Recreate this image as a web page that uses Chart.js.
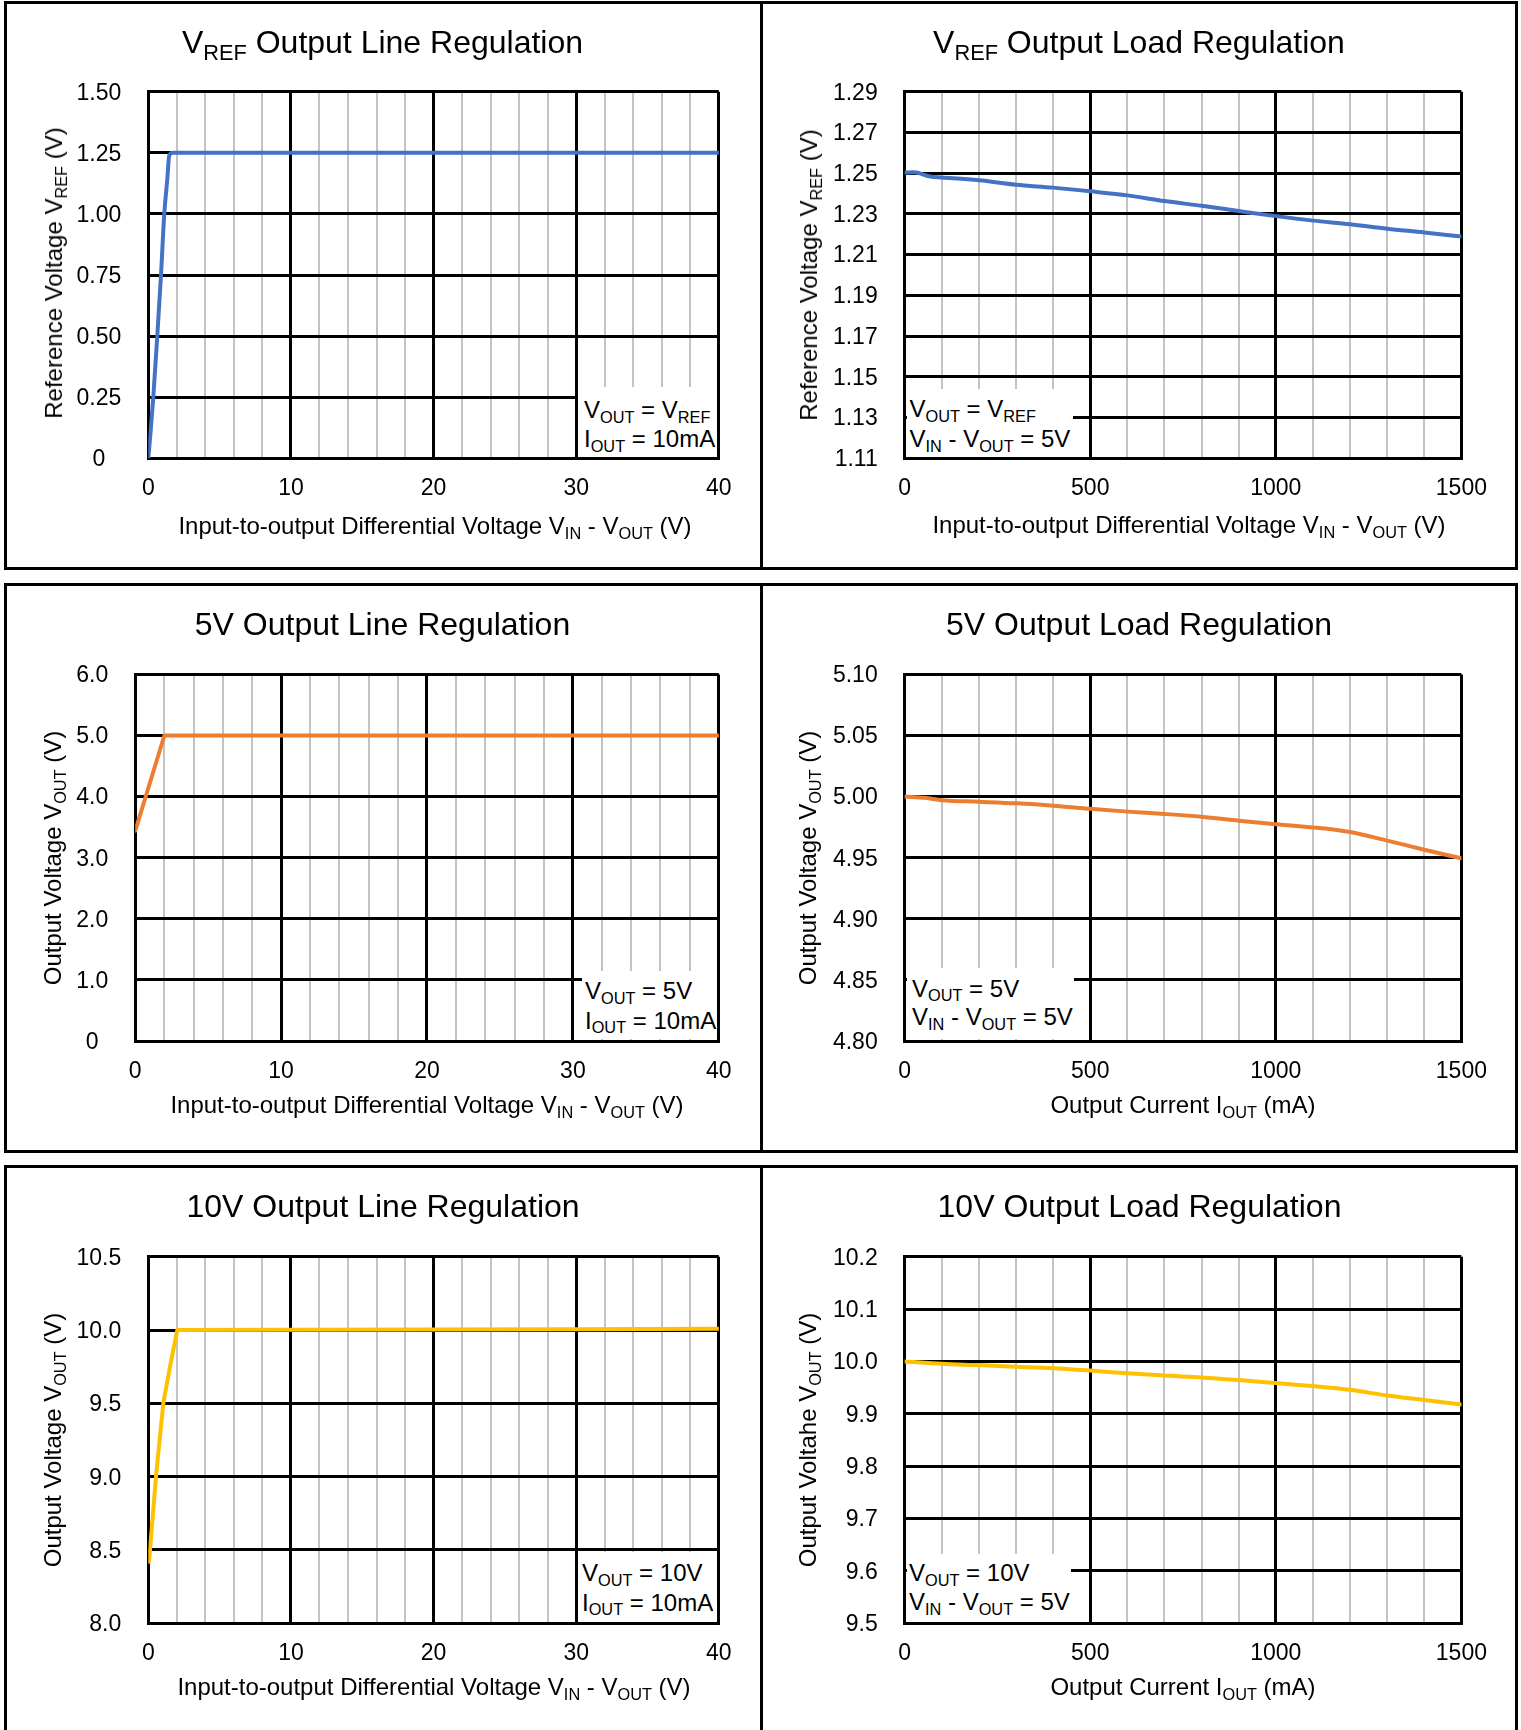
<!DOCTYPE html>
<html>
<head>
<meta charset="utf-8">
<script src="https://cdn.jsdelivr.net/npm/chart.js@4.4.1/dist/chart.umd.min.js"></script>
<style>
  html,body{margin:0;padding:0;background:#fff;}
  body{width:1521px;height:1730px;position:relative;overflow:hidden;font-family:"Liberation Sans",Arial,sans-serif;color:#000;}
  .row{position:absolute;left:3.5px;width:1514.5px;border:3px solid #000;box-sizing:border-box;}
  .vdiv{position:absolute;left:760.2px;width:3px;background:#000;}
  canvas{position:absolute;}
  .t{position:absolute;white-space:nowrap;line-height:1;transform:translate(-50%,-50%);}
  .title{font-size:32px;}
  .axt{font-size:24px;}
  .yt{transform:translate(-50%,-50%) rotate(-90deg);}
  .box{position:absolute;background:#fff;}
  .note{position:absolute;white-space:nowrap;line-height:1;font-size:24px;transform:translateY(-50%);}
  sub{font-size:0.68em;vertical-align:baseline;position:relative;top:0.3em;line-height:0;}
</style>
</head>
<body>
<div class="row" style="top:0.5px;height:569.5px;"></div>
<div class="vdiv" style="top:0.5px;height:569.5px;"></div>
<div class="row" style="top:582.5px;height:570.3px;"></div>
<div class="vdiv" style="top:582.5px;height:570.3px;"></div>
<div class="row" style="top:1164.5px;height:600px;"></div>
<div class="vdiv" style="top:1164.5px;height:600px;"></div>

<canvas id="c1"></canvas>
<canvas id="c2"></canvas>
<canvas id="c3"></canvas>
<canvas id="c4"></canvas>
<canvas id="c5"></canvas>
<canvas id="c6"></canvas>

<!-- annotation backgrounds -->
<div class="box" style="left:577.5px;top:387px;width:139px;height:69.5px;"></div>
<div class="box" style="left:906.5px;top:388.5px;width:166.5px;height:68px;"></div>
<div class="box" style="left:581.5px;top:971px;width:135px;height:68.3px;"></div>
<div class="box" style="left:906.5px;top:968px;width:167.5px;height:71.3px;"></div>
<div class="box" style="left:578px;top:1552px;width:138.5px;height:69.6px;"></div>
<div class="box" style="left:906.5px;top:1554px;width:164.5px;height:67.6px;"></div>

<!-- titles -->
<div class="t title" style="left:382.5px;top:42px;">V<sub>REF</sub> Output Line Regulation</div>
<div class="t title" style="left:1139px;top:42px;">V<sub>REF</sub> Output Load Regulation</div>
<div class="t title" style="left:382.5px;top:624px;">5V Output Line Regulation</div>
<div class="t title" style="left:1139px;top:624px;">5V Output Load Regulation</div>
<div class="t title" style="left:383px;top:1206px;">10V Output Line Regulation</div>
<div class="t title" style="left:1139.5px;top:1206px;">10V Output Load Regulation</div>

<!-- x axis titles -->
<div class="t axt" style="left:435px;top:526px;">Input-to-output Differential Voltage V<sub>IN</sub> - V<sub>OUT</sub> (V)</div>
<div class="t axt" style="left:1189px;top:525px;">Input-to-output Differential Voltage V<sub>IN</sub> - V<sub>OUT</sub> (V)</div>
<div class="t axt" style="left:427px;top:1105px;">Input-to-output Differential Voltage V<sub>IN</sub> - V<sub>OUT</sub> (V)</div>
<div class="t axt" style="left:1183px;top:1105px;">Output Current I<sub>OUT</sub> (mA)</div>
<div class="t axt" style="left:434px;top:1687px;">Input-to-output Differential Voltage V<sub>IN</sub> - V<sub>OUT</sub> (V)</div>
<div class="t axt" style="left:1183px;top:1687px;">Output Current I<sub>OUT</sub> (mA)</div>

<!-- y axis titles -->
<div class="t axt yt" style="left:53.5px;top:273px;">Reference Voltage V<sub>REF</sub> (V)</div>
<div class="t axt yt" style="left:808.5px;top:275px;">Reference Voltage V<sub>REF</sub> (V)</div>
<div class="t axt yt" style="left:53px;top:858px;">Output Voltage V<sub>OUT</sub> (V)</div>
<div class="t axt yt" style="left:808px;top:858px;">Output Voltage V<sub>OUT</sub> (V)</div>
<div class="t axt yt" style="left:53px;top:1440px;">Output Voltage V<sub>OUT</sub> (V)</div>
<div class="t axt yt" style="left:808px;top:1440px;">Output Voltahe V<sub>OUT</sub> (V)</div>

<!-- condition notes -->
<div class="note" style="left:584px;top:410px;">V<sub>OUT</sub> = V<sub>REF</sub></div>
<div class="note" style="left:584px;top:439px;">I<sub>OUT</sub> = 10mA</div>
<div class="note" style="left:909.5px;top:409px;">V<sub>OUT</sub> = V<sub>REF</sub></div>
<div class="note" style="left:909.5px;top:439px;">V<sub>IN</sub> - V<sub>OUT</sub> = 5V</div>
<div class="note" style="left:585px;top:991px;">V<sub>OUT</sub> = 5V</div>
<div class="note" style="left:585px;top:1020.5px;">I<sub>OUT</sub> = 10mA</div>
<div class="note" style="left:912px;top:988.5px;">V<sub>OUT</sub> = 5V</div>
<div class="note" style="left:912px;top:1017px;">V<sub>IN</sub> - V<sub>OUT</sub> = 5V</div>
<div class="note" style="left:582px;top:1573px;">V<sub>OUT</sub> = 10V</div>
<div class="note" style="left:582px;top:1602.5px;">I<sub>OUT</sub> = 10mA</div>
<div class="note" style="left:909px;top:1573px;">V<sub>OUT</sub> = 10V</div>
<div class="note" style="left:909px;top:1602px;">V<sub>IN</sub> - V<sub>OUT</sub> = 5V</div>

<script>
// ---------------- DATA ----------------
// VREF output line regulation (x: VIN-VOUT in V, y: VREF in V)
const vrefLineX = [0, 0.17, 0.35, 0.63, 0.89, 1.12, 1.33, 1.47, 1.75, 10, 20, 30, 40];
const vrefLineY = [0, 0.115, 0.25, 0.50, 0.75, 1.00, 1.14, 1.24, 1.25, 1.25, 1.25, 1.25, 1.25];

// VREF output load regulation (x: mA, y: V)
const vrefLoadX = [0, 25, 70, 100, 200, 300, 400, 500, 600, 700, 800, 900, 1000, 1100, 1200, 1300, 1400, 1500];
const vrefLoadY = [1.2503, 1.2505, 1.2483, 1.2479, 1.2465, 1.2443, 1.2429, 1.2411, 1.2391, 1.2363, 1.2340, 1.2314, 1.2289, 1.2267, 1.2249, 1.2227, 1.2209, 1.2189];

// 5V output line regulation
const out5LineX = [0, 2, 10, 20, 30, 40];
const out5LineY = [3.44, 5.0, 5.0, 5.0, 5.0, 5.0];

// 5V output load regulation
const out5LoadX = [0, 55, 100, 200, 300, 400, 500, 600, 700, 800, 900, 1000, 1100, 1150, 1200, 1300, 1400, 1500];
const out5LoadY = [5.000, 4.999, 4.997, 4.9958, 4.9945, 4.9926, 4.9900, 4.9877, 4.9858, 4.9835, 4.9803, 4.9774, 4.9748, 4.9733, 4.9710, 4.9640, 4.9565, 4.9495];

// 10V output line regulation
const out10LineX = [0.05, 0.12, 0.54, 1.05, 1.52, 2.03, 10, 20, 30, 40];
const out10LineY = [8.42, 8.50, 9.00, 9.50, 9.75, 10.0, 10.002, 10.004, 10.006, 10.008];

// 10V output load regulation
const out10LoadX = [0, 100, 200, 300, 400, 500, 600, 700, 800, 900, 1000, 1100, 1200, 1300, 1400, 1500];
const out10LoadY = [10.0, 9.9954, 9.993, 9.990, 9.987, 9.9825, 9.9774, 9.973, 9.9695, 9.9645, 9.9588, 9.953, 9.9458, 9.935, 9.9264, 9.9178];

// ---------------- TICKS ----------------
const lineGridX = [0, 2, 4, 6, 8, 10, 12, 14, 16, 18, 20, 22, 24, 26, 28, 30, 32, 34, 36, 38, 40];
const lineMajorX = [0, 10, 20, 30, 40];
const loadGridX = [0, 100, 200, 300, 400, 500, 600, 700, 800, 900, 1000, 1100, 1200, 1300, 1400, 1500];
const loadMajorX = [0, 500, 1000, 1500];

const vrefLineYTicks = [0, 0.25, 0.5, 0.75, 1.0, 1.25, 1.5];
const vrefLineYLabels = ['0', '0.25', '0.50', '0.75', '1.00', '1.25', '1.50'];
const vrefLoadYTicks = [1.11, 1.13, 1.15, 1.17, 1.19, 1.21, 1.23, 1.25, 1.27, 1.29];
const vrefLoadYLabels = ['1.11', '1.13', '1.15', '1.17', '1.19', '1.21', '1.23', '1.25', '1.27', '1.29'];
const out5LineYTicks = [0, 1, 2, 3, 4, 5, 6];
const out5LineYLabels = ['0', '1.0', '2.0', '3.0', '4.0', '5.0', '6.0'];
const out5LoadYTicks = [4.80, 4.85, 4.90, 4.95, 5.00, 5.05, 5.10];
const out5LoadYLabels = ['4.80', '4.85', '4.90', '4.95', '5.00', '5.05', '5.10'];
const out10LineYTicks = [8.0, 8.5, 9.0, 9.5, 10.0, 10.5];
const out10LineYLabels = ['8.0', '8.5', '9.0', '9.5', '10.0', '10.5'];
const out10LoadYTicks = [9.5, 9.6, 9.7, 9.8, 9.9, 10.0, 10.1, 10.2];
const out10LoadYLabels = ['9.5', '9.6', '9.7', '9.8', '9.9', '10.0', '10.1', '10.2'];

// ---------------- STYLE / LAYOUT ----------------
const BLUE = '#4472C4', ORANGE = '#ED7D31', GOLD = '#FFC000';
const LEFT_CANVAS = {x: 7, w: 753};
const RIGHT_CANVAS = {x: 763, w: 752};
const ROW_CANVAS = [{y: 4, h: 560}, {y: 586, h: 560}, {y: 1168, h: 560}];

Chart.defaults.font.family = '"Liberation Sans", Arial, sans-serif';
Chart.defaults.color = '#000';

function makeChart(p) {
  const cv = document.getElementById(p.id);
  const c = p.col === 0 ? LEFT_CANVAS : RIGHT_CANVAS;
  const r = ROW_CANVAS[p.row];
  cv.style.left = c.x + 'px';
  cv.style.top = r.y + 'px';
  cv.style.width = c.w + 'px';
  cv.style.height = r.h + 'px';
  cv.width = c.w; cv.height = r.h;
  const yW = p.plot.l - c.x;
  const xH = r.y + r.h - p.plot.b;
  const pad = {left: 0, top: p.plot.t - r.y, right: c.x + c.w - p.plot.r, bottom: 0};
  new Chart(cv, {
    type: 'scatter',
    data: {
      datasets: [{
        data: p.xs.map((x, i) => ({x: x, y: p.ys[i]})),
        showLine: true,
        borderColor: p.color,
        backgroundColor: p.color,
        borderWidth: 4,
        pointRadius: 0,
        tension: 0,
        cubicInterpolationMode: p.smooth ? 'monotone' : 'default',
        fill: false,
        borderJoinStyle: 'round',
        borderCapStyle: 'round'
      }]
    },
    options: {
      responsive: false,
      animation: false,
      devicePixelRatio: 1,
      layout: {padding: pad},
      plugins: {legend: {display: false}, tooltip: {enabled: false}, title: {display: false}},
      scales: {
        x: {
          type: 'linear', position: 'bottom',
          min: p.xGrid[0], max: p.xGrid[p.xGrid.length - 1],
          afterFit: s => { s.height = xH; },
          afterBuildTicks: s => { s.ticks = p.xGrid.map(v => ({value: v})); },
          ticks: {
            autoSkip: false, maxRotation: 0, minRotation: 0, padding: 17,
            color: '#000', font: {size: 23},
            callback: v => p.xMajor.includes(v) ? String(v) : ''
          },
          grid: {
            z: -2, drawTicks: false,
            color: ctx => (ctx.tick && p.xMajor.includes(ctx.tick.value)) ? '#000' : '#c3c3c3',
            lineWidth: ctx => (ctx.tick && p.xMajor.includes(ctx.tick.value)) ? 3 : 2
          },
          border: {display: true, color: '#000', width: 3}
        },
        y: {
          type: 'linear',
          min: p.yTicks[0], max: p.yTicks[p.yTicks.length - 1],
          afterFit: s => { s.width = yW; },
          afterBuildTicks: s => { s.ticks = p.yTicks.map(v => ({value: v})); },
          ticks: {
            autoSkip: false, padding: 27, color: '#000', font: {size: 23},
            labelOffset: 1.5,
            crossAlign: p.yCenter ? 'center' : 'near',
            callback: (v, i) => p.yLabels[i]
          },
          grid: {z: -1, drawTicks: false, color: '#000', lineWidth: 3},
          border: {display: true, color: '#000', width: 3}
        }
      }
    }
  });
}

const panels = [
  {id: 'c1', row: 0, col: 0, plot: {l: 148.3, r: 718.8, t: 91.7, b: 458.3}, smooth: true, yCenter: true,
   xs: vrefLineX, ys: vrefLineY, color: BLUE, xGrid: lineGridX, xMajor: lineMajorX,
   yTicks: vrefLineYTicks, yLabels: vrefLineYLabels},
  {id: 'c2', row: 0, col: 1, plot: {l: 904.7, r: 1461.4, t: 91.7, b: 458.3}, smooth: true, yCenter: false,
   xs: vrefLoadX, ys: vrefLoadY, color: BLUE, xGrid: loadGridX, xMajor: loadMajorX,
   yTicks: vrefLoadYTicks, yLabels: vrefLoadYLabels},
  {id: 'c3', row: 1, col: 0, plot: {l: 135.2, r: 718.8, t: 674.4, b: 1041}, smooth: false, yCenter: true,
   xs: out5LineX, ys: out5LineY, color: ORANGE, xGrid: lineGridX, xMajor: lineMajorX,
   yTicks: out5LineYTicks, yLabels: out5LineYLabels},
  {id: 'c4', row: 1, col: 1, plot: {l: 904.7, r: 1461.4, t: 674.4, b: 1041}, smooth: true, yCenter: false,
   xs: out5LoadX, ys: out5LoadY, color: ORANGE, xGrid: loadGridX, xMajor: loadMajorX,
   yTicks: out5LoadYTicks, yLabels: out5LoadYLabels},
  {id: 'c5', row: 2, col: 0, plot: {l: 148.3, r: 718.8, t: 1256.7, b: 1623.3}, smooth: false, yCenter: false,
   xs: out10LineX, ys: out10LineY, color: GOLD, xGrid: lineGridX, xMajor: lineMajorX,
   yTicks: out10LineYTicks, yLabels: out10LineYLabels},
  {id: 'c6', row: 2, col: 1, plot: {l: 904.7, r: 1461.4, t: 1256.7, b: 1623.3}, smooth: true, yCenter: false,
   xs: out10LoadX, ys: out10LoadY, color: GOLD, xGrid: loadGridX, xMajor: loadMajorX,
   yTicks: out10LoadYTicks, yLabels: out10LoadYLabels}
];
panels.forEach(makeChart);
</script>
</body>
</html>
